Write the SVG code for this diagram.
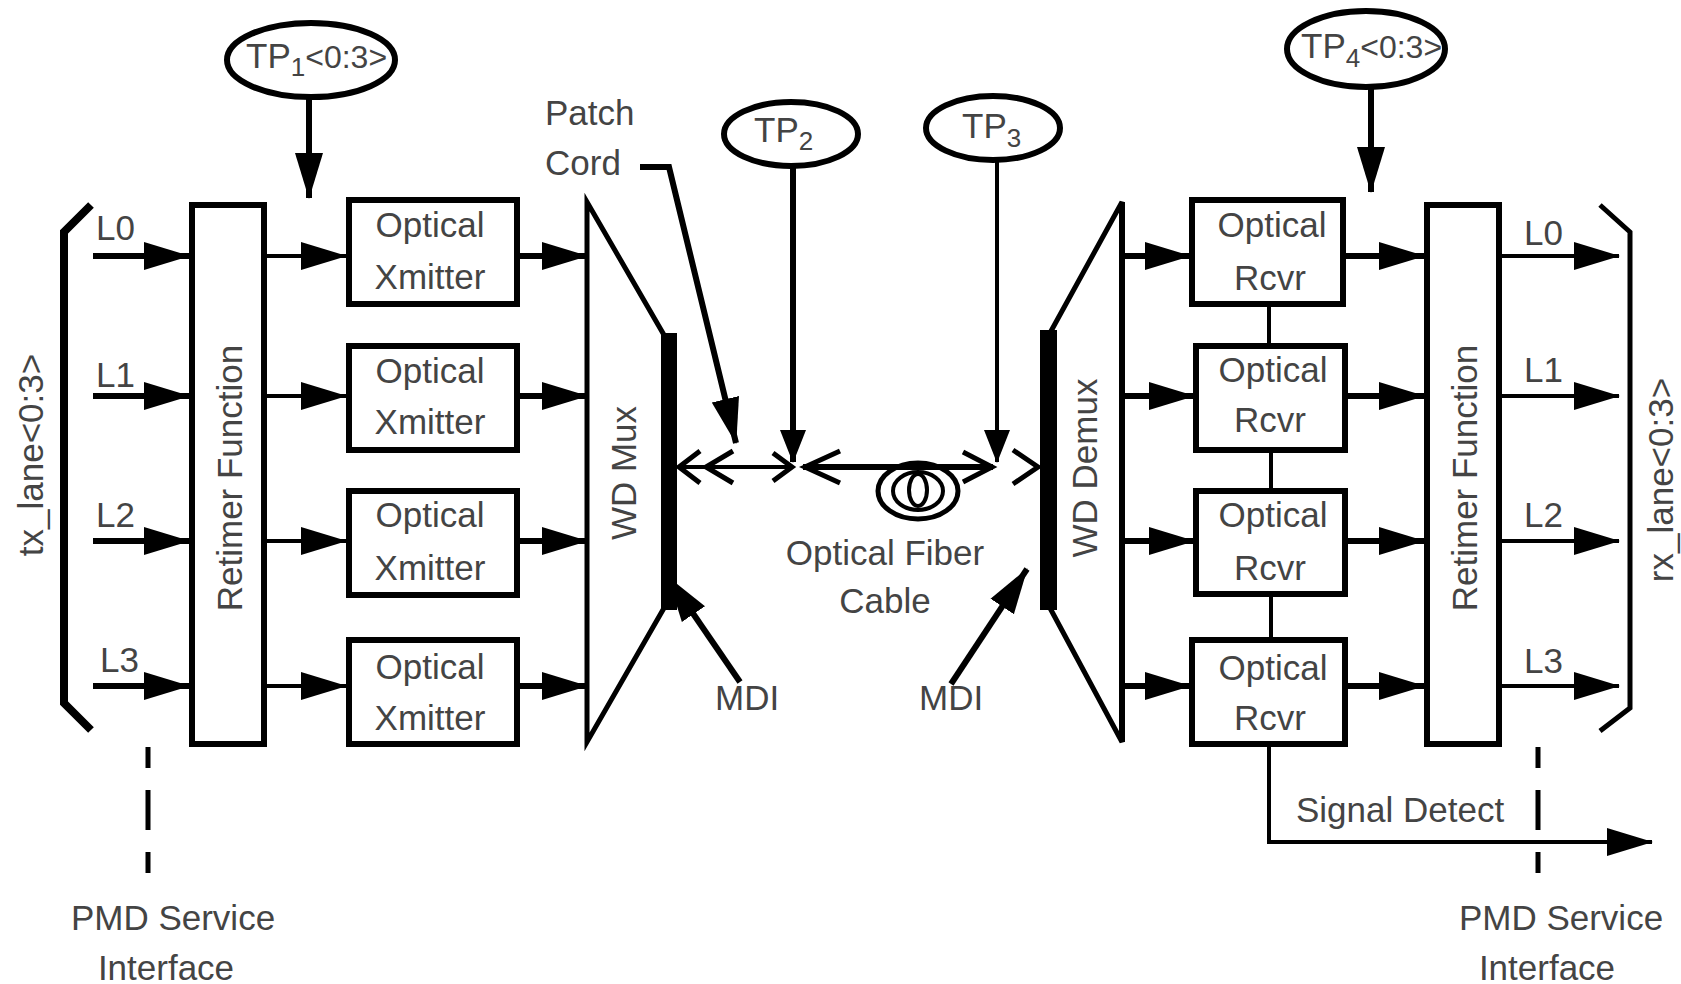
<svg xmlns="http://www.w3.org/2000/svg" width="1681" height="984" viewBox="0 0 1681 984">
<style>
.t{font-family:"Liberation Sans",Arial,sans-serif;font-size:35px;fill:#444}
.tm{text-anchor:middle}
.box{fill:#fff;stroke:#000;stroke-width:6}
.ell{fill:#fff;stroke:#000;stroke-width:6}
.ln{fill:none;stroke:#000}
.w6{stroke-width:6}
.w5{stroke-width:5}
.w4{stroke-width:4}
.dash{stroke-dasharray:40 22;stroke-dashoffset:19}
</style>
<defs>
<marker id="ah" markerUnits="userSpaceOnUse" markerWidth="48" markerHeight="32" viewBox="0 0 48 32" refX="45" refY="16" orient="auto">
<path d="M0,2 L46,16 L0,30 Z" fill="#000"/>
</marker>
<marker id="as" markerUnits="userSpaceOnUse" markerWidth="34" markerHeight="28" viewBox="0 0 34 28" refX="32" refY="14" orient="auto">
<path d="M0,1 L33,14 L0,27 Z" fill="#000"/>
</marker>
</defs>
<rect width="1681" height="984" fill="#fff"/>

<g id="connectors">
<!-- left inputs -->
<line class="ln w6" x1="93" y1="256" x2="189" y2="256" marker-end="url(#ah)"/>
<line class="ln w6" x1="93" y1="396" x2="189" y2="396" marker-end="url(#ah)"/>
<line class="ln w6" x1="93" y1="541" x2="189" y2="541" marker-end="url(#ah)"/>
<line class="ln w6" x1="93" y1="686" x2="189" y2="686" marker-end="url(#ah)"/>
<!-- retimer to xmitter -->
<line class="ln w4" x1="267" y1="256" x2="346" y2="256" marker-end="url(#ah)"/>
<line class="ln w4" x1="267" y1="396" x2="346" y2="396" marker-end="url(#ah)"/>
<line class="ln w4" x1="267" y1="541" x2="346" y2="541" marker-end="url(#ah)"/>
<line class="ln w4" x1="267" y1="686" x2="346" y2="686" marker-end="url(#ah)"/>
<!-- xmitter to mux -->
<line class="ln w6" x1="520" y1="256" x2="587" y2="256" marker-end="url(#ah)"/>
<line class="ln w6" x1="520" y1="396" x2="587" y2="396" marker-end="url(#ah)"/>
<line class="ln w6" x1="520" y1="541" x2="587" y2="541" marker-end="url(#ah)"/>
<line class="ln w6" x1="520" y1="686" x2="587" y2="686" marker-end="url(#ah)"/>
<!-- demux to rcvr -->
<line class="ln w6" x1="1122" y1="256" x2="1190" y2="256" marker-end="url(#ah)"/>
<line class="ln w6" x1="1122" y1="396" x2="1194" y2="396" marker-end="url(#ah)"/>
<line class="ln w6" x1="1122" y1="541" x2="1194" y2="541" marker-end="url(#ah)"/>
<line class="ln w6" x1="1122" y1="686" x2="1190" y2="686" marker-end="url(#ah)"/>
<!-- rcvr to retimer -->
<line class="ln w6" x1="1346" y1="256" x2="1424" y2="256" marker-end="url(#ah)"/>
<line class="ln w6" x1="1346" y1="396" x2="1424" y2="396" marker-end="url(#ah)"/>
<line class="ln w6" x1="1346" y1="541" x2="1424" y2="541" marker-end="url(#ah)"/>
<line class="ln w6" x1="1346" y1="686" x2="1424" y2="686" marker-end="url(#ah)"/>
<!-- outputs -->
<line class="ln w4" x1="1502" y1="256" x2="1619" y2="256" marker-end="url(#ah)"/>
<line class="ln w4" x1="1502" y1="396" x2="1619" y2="396" marker-end="url(#ah)"/>
<line class="ln w4" x1="1502" y1="541" x2="1619" y2="541" marker-end="url(#ah)"/>
<line class="ln w4" x1="1502" y1="686" x2="1619" y2="686" marker-end="url(#ah)"/>
<!-- TP arrows -->
<line class="ln w6" x1="309" y1="97" x2="309" y2="198" marker-end="url(#ah)"/>
<line class="ln w6" x1="1371" y1="87" x2="1371" y2="192" marker-end="url(#ah)"/>
<line class="ln w6" x1="793" y1="166" x2="793" y2="462" marker-end="url(#as)"/>
<line class="ln w4" x1="997" y1="160" x2="997" y2="462" marker-end="url(#as)"/>
<!-- patch cord pointer -->
<polyline class="ln w6" points="640,167 669,167 736,443" marker-end="url(#ah)"/>
<!-- MDI pointers -->
<line class="ln w6" x1="740" y1="682" x2="668" y2="577" marker-end="url(#ah)"/>
<line class="ln w6" x1="951" y1="684" x2="1027" y2="569" marker-end="url(#ah)"/>
<!-- fiber -->
<line class="ln w4" x1="678" y1="467" x2="788" y2="467"/>
<line class="ln w6" x1="803" y1="467" x2="993" y2="467"/>
<polyline class="ln w5" points="700,451 679,467 700,483"/>
<polyline class="ln w5" points="733,451 706,467 733,483"/>
<polyline class="ln w5" points="773,453 792,467 773,481"/>
<polyline class="ln w5" points="840,451 805,467 840,483"/>
<polyline class="ln w5" points="963,452 992,467 963,482"/>
<polyline class="ln w5" points="1013,450 1038,467 1013,484"/>
<ellipse class="ln w5" cx="918" cy="491" rx="40" ry="28"/>
<ellipse class="ln w4" cx="918" cy="491" rx="25" ry="19"/>
<ellipse class="ln w4" cx="918" cy="490" rx="9" ry="16"/>
<!-- rcvr chain and signal detect -->
<line class="ln w4" x1="1269" y1="307" x2="1269" y2="343"/>
<line class="ln w4" x1="1271" y1="453" x2="1271" y2="488"/>
<line class="ln w4" x1="1271" y1="597" x2="1271" y2="637"/>
<polyline class="ln w4" points="1269,747 1269,842 1652,842" marker-end="url(#ah)"/>
<!-- PMD service interface dashed -->
<line class="ln w5 dash" x1="148" y1="747" x2="148" y2="873"/>
<line class="ln w5 dash" x1="1538" y1="747" x2="1538" y2="873"/>
</g>

<g id="tp1">
<ellipse class="ell" cx="311" cy="60" rx="84" ry="37"/>
<text class="t" x="246" y="68" font-size="34">TP<tspan font-size="26" dy="8">1</tspan><tspan dy="-8" font-size="32">&lt;0:3&gt;</tspan></text>
</g>
<g id="tp2">
<ellipse class="ell" cx="791" cy="134" rx="67" ry="32"/>
<text class="t" x="754" y="142" font-size="34">TP<tspan font-size="26" dy="8">2</tspan></text>
</g>
<g id="tp3">
<ellipse class="ell" cx="993" cy="128" rx="67" ry="32"/>
<text class="t" x="962" y="138" font-size="34">TP<tspan font-size="26" dy="9">3</tspan></text>
</g>
<g id="tp4">
<ellipse class="ell" cx="1366" cy="49" rx="79" ry="38"/>
<text class="t" x="1301" y="58" font-size="34">TP<tspan font-size="26" dy="9">4</tspan><tspan dy="-9" font-size="32">&lt;0:3&gt;</tspan></text>
</g>

<g id="tx-lane">
<path class="ln" stroke-width="8" d="M91,205 L64,232 L64,703 L91,730"/>
<text class="t tm" transform="rotate(-90 43 455)" x="43" y="455">tx_lane&lt;0:3&gt;</text>
<text class="t" x="96" y="240">L0</text>
<text class="t" x="96" y="387">L1</text>
<text class="t" x="96" y="527">L2</text>
<text class="t" x="100" y="672">L3</text>
</g>

<g id="retimer-tx">
<rect class="box" x="192" y="205" width="72" height="539"/>
<text class="t tm" font-size="37" transform="rotate(-90 242 478)" x="242" y="478">Retimer Function</text>
</g>

<g id="xmitter0"><rect class="box" x="349" y="200" width="168" height="104"/>
<text class="t tm" x="430" y="237">Optical</text><text class="t tm" x="430" y="289">Xmitter</text></g>
<g id="xmitter1"><rect class="box" x="349" y="346" width="168" height="104"/>
<text class="t tm" x="430" y="383">Optical</text><text class="t tm" x="430" y="434">Xmitter</text></g>
<g id="xmitter2"><rect class="box" x="349" y="491" width="168" height="104"/>
<text class="t tm" x="430" y="527">Optical</text><text class="t tm" x="430" y="580">Xmitter</text></g>
<g id="xmitter3"><rect class="box" x="349" y="640" width="168" height="104"/>
<text class="t tm" x="430" y="679">Optical</text><text class="t tm" x="430" y="730">Xmitter</text></g>

<g id="wd-mux">
<polygon class="ln w5" points="587,202 664,335 664,608 587,742"/>
<rect x="661" y="333" width="16" height="277" fill="#000"/>
<text class="t tm" font-size="36" transform="rotate(-90 636 473)" x="636" y="473">WD Mux</text>
</g>

<g id="wd-demux">
<polygon class="ln w5" points="1122,202 1050,333 1050,608 1122,742"/>
<line class="ln w6" x1="1122" y1="202" x2="1122" y2="742"/>
<rect x="1040" y="330" width="17" height="280" fill="#000"/>
<text class="t tm" font-size="36" transform="rotate(-90 1097 468)" x="1097" y="468">WD Demux</text>
</g>

<g id="labels">
<text class="t" x="545" y="125">Patch</text>
<text class="t" x="545" y="175">Cord</text>
<text class="t tm" font-size="36" x="885" y="565">Optical Fiber</text>
<text class="t tm" font-size="36" x="885" y="613">Cable</text>
<text class="t" x="715" y="710">MDI</text>
<text class="t" x="919" y="710">MDI</text>
<text class="t" x="1296" y="822">Signal Detect</text>
<text class="t tm" x="173" y="930">PMD Service</text>
<text class="t tm" x="166" y="980">Interface</text>
<text class="t tm" x="1561" y="930">PMD Service</text>
<text class="t tm" x="1547" y="980">Interface</text>
</g>

<g id="rcvr0"><rect class="box" x="1192" y="200" width="151" height="104"/>
<text class="t tm" x="1272" y="237">Optical</text><text class="t tm" x="1270" y="290">Rcvr</text></g>
<g id="rcvr1"><rect class="box" x="1196" y="346" width="149" height="104"/>
<text class="t tm" x="1273" y="382">Optical</text><text class="t tm" x="1270" y="432">Rcvr</text></g>
<g id="rcvr2"><rect class="box" x="1196" y="491" width="149" height="103"/>
<text class="t tm" x="1273" y="527">Optical</text><text class="t tm" x="1270" y="580">Rcvr</text></g>
<g id="rcvr3"><rect class="box" x="1192" y="640" width="153" height="104"/>
<text class="t tm" x="1273" y="680">Optical</text><text class="t tm" x="1270" y="730">Rcvr</text></g>

<g id="retimer-rx">
<rect class="box" x="1427" y="205" width="72" height="539"/>
<text class="t tm" font-size="37" transform="rotate(-90 1477 478)" x="1477" y="478">Retimer Function</text>
</g>

<g id="rx-lane">
<path class="ln w5" d="M1600,205 L1630,232 L1630,708 L1600,731"/>
<text class="t tm" font-size="36" transform="rotate(-90 1673 480)" x="1673" y="480">rx_lane&lt;0:3&gt;</text>
<text class="t" x="1524" y="245">L0</text>
<text class="t" x="1524" y="382">L1</text>
<text class="t" x="1524" y="527">L2</text>
<text class="t" x="1524" y="673">L3</text>
</g>
</svg>
